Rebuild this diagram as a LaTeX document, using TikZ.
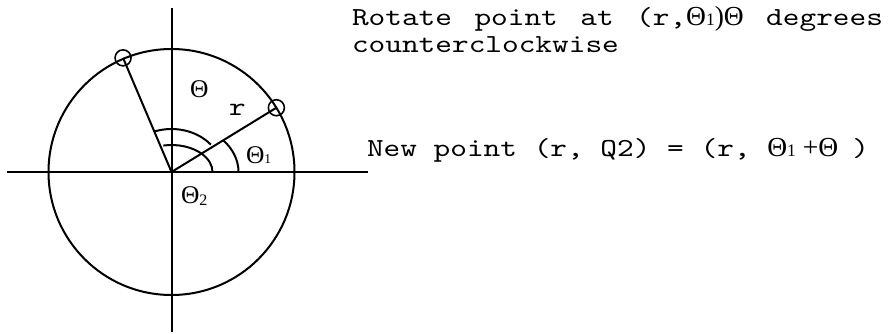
\documentclass[tikz,border=0pt]{standalone}
\usepackage{fontspec}
\setmainfont{Liberation Serif}
\newfontfamily\monof{lmmono10-regular.otf}[FakeStretch=1.222]
\newcommand\mtx{\monof\fontsize{26}{27}\selectfont}
\newcommand\thx{\rmfamily\fontsize{27.5}{28}\selectfont}
\newcommand\thd{\rmfamily\fontsize{25.5}{26}\selectfont}
\newcommand\smx{\rmfamily\fontsize{17.5}{18}\selectfont}
\newcommand\slx{\rmfamily\fontsize{13.5}{14}\selectfont}
\newcommand\sps{\hspace{16.68pt}}
\newcommand\jsp{\hspace{16.68pt plus 1fil}}
\usetikzlibrary{calc}
\begin{document}
\begin{tikzpicture}[x=1pt,y=1pt, line width=2pt,
  lbl/.style={inner sep=0pt, anchor=base west},
  ptc/.style={circle, draw, minimum size=16pt, inner sep=0pt, line width=1.6pt}]
\useasboundingbox (0,0) rectangle (888,333);
\coordinate (O) at (171.5,161);
\coordinate (vt) at (171.5,325);
\coordinate (vb) at (171.5,1);
\coordinate (hl) at (7,161);
\coordinate (hr) at (368,161);
\draw (vb) -- (vt);
\draw (hl) -- (hr);
\draw (O) circle[radius=123];
\node[ptc] (P1) at ($(O)+(31.5:123)$) {};
\node[ptc] (P2) at ($(O)+(113:124)$) {};
\draw (O) -- (P1.center);
\draw (O) -- (P2.center);
% angle arcs
\draw (O) ++(101.5:41 and 27) arc[start angle=101.5, end angle=0, x radius=41, y radius=27];
\draw (O) ++(109:51 and 43) arc[start angle=109, end angle=39.5, x radius=51, y radius=43];
\draw (O) ++(40:67 and 50) arc[start angle=40, end angle=0, x radius=67, y radius=50];
% labels in the diagram
\node[lbl] (th) at (189,236) {\thd Θ};
\node[lbl] (rl) at (228,218) {\mtx r};
\node[lbl] (th1) at (245,170) {\thd Θ\slx 1};
\node[lbl] (th2) at (180,130) {\thd Θ\raisebox{-2pt}{\fontsize{16}{16}\selectfont 2}};
% text
\node[lbl] (t1) at (351,308) {\hbox to 531pt{\mtx Rotate\jsp point\jsp at\jsp (r,\thx Θ\smx 1\thx )Θ\jsp\mtx degrees}};
\node[lbl] (t2) at (351,281) {\mtx counterclockwise};
\node[lbl] (t3) at (366,177) {\hbox to 502pt{\mtx New\sps point\sps (r,\sps Q2)\sps =\sps (r,\sps\thx Θ\smx 1\thx\ +Θ\hspace{0pt plus 1fil}\mtx )}};
\end{tikzpicture}
\end{document}
